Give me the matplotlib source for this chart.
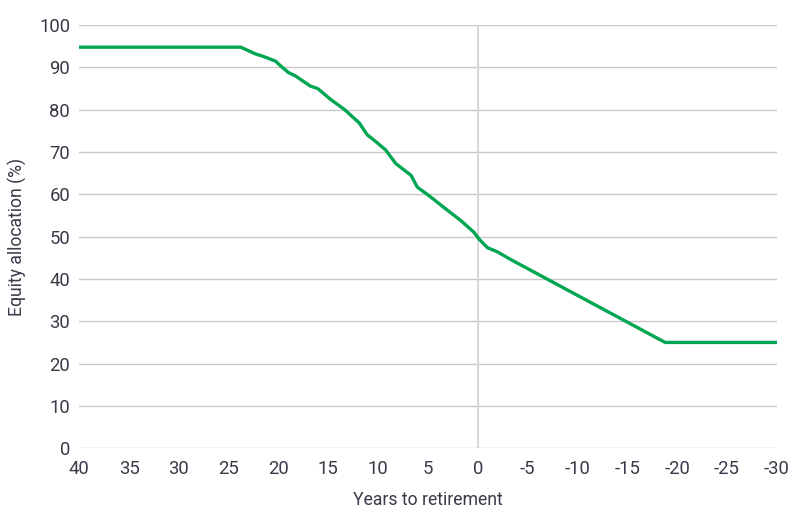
import matplotlib
matplotlib.use('Agg')
import matplotlib.pyplot as plt

# glide path
years = [40, 23.8, 22.3, 21.5, 20.3, 19.8, 19.0, 18.3, 16.8, 16.05, 14.8, 13.4,
         11.9, 11.1, 10.25, 9.25, 8.24, 6.7, 6.07, 4.9, 3.4, 1.7, 0.37, -0.13,
         -0.97, -1.98, -3.3, -18.8, -30]
equity = [94.8, 94.8, 93.2, 92.6, 91.5, 90.4, 88.8, 88.0, 85.6, 85.0, 82.5, 80.1,
          76.9, 74.1, 72.5, 70.5, 67.3, 64.5, 61.7, 59.7, 56.9, 53.8, 51.0, 49.4,
          47.4, 46.4, 44.6, 25.0, 25.0]

x_ticks = list(range(40, -31, -5))
y_ticks = list(range(0, 101, 10))

plt.rcParams['font.family'] = ['Roboto', 'DejaVu Sans']

fig = plt.figure(figsize=(8, 5.14), dpi=100)
ax = fig.add_axes([0.099, 0.128, 0.872, 0.823])

for y in y_ticks:
    ax.axhline(y, color='#c8c8cc', linewidth=1.0, zorder=1)
ax.axvline(0, color='#d9d9dd', linewidth=1.5, zorder=1)

ax.plot(years, equity, color='#00a651', linewidth=2.4, zorder=3)

ax.set_xlim(40, -30)
ax.set_ylim(0, 100)
ax.set_xticks(x_ticks)
ax.set_yticks(y_ticks)
ax.set_xticklabels([str(t) for t in x_ticks])
ax.tick_params(axis='both', length=0, labelsize=13.3, colors='#3a3a48')
ax.tick_params(axis='x', pad=8.5)
ax.tick_params(axis='y', pad=6.5)
for s in ax.spines.values():
    s.set_visible(False)

ax.set_xlabel('Years to retirement', fontsize=12.7, color='#3a3a48', labelpad=9)
ax.set_ylabel('Equity allocation (%)', fontsize=12.7, color='#3a3a48', labelpad=9)

fig.savefig('out.png', dpi=100)
